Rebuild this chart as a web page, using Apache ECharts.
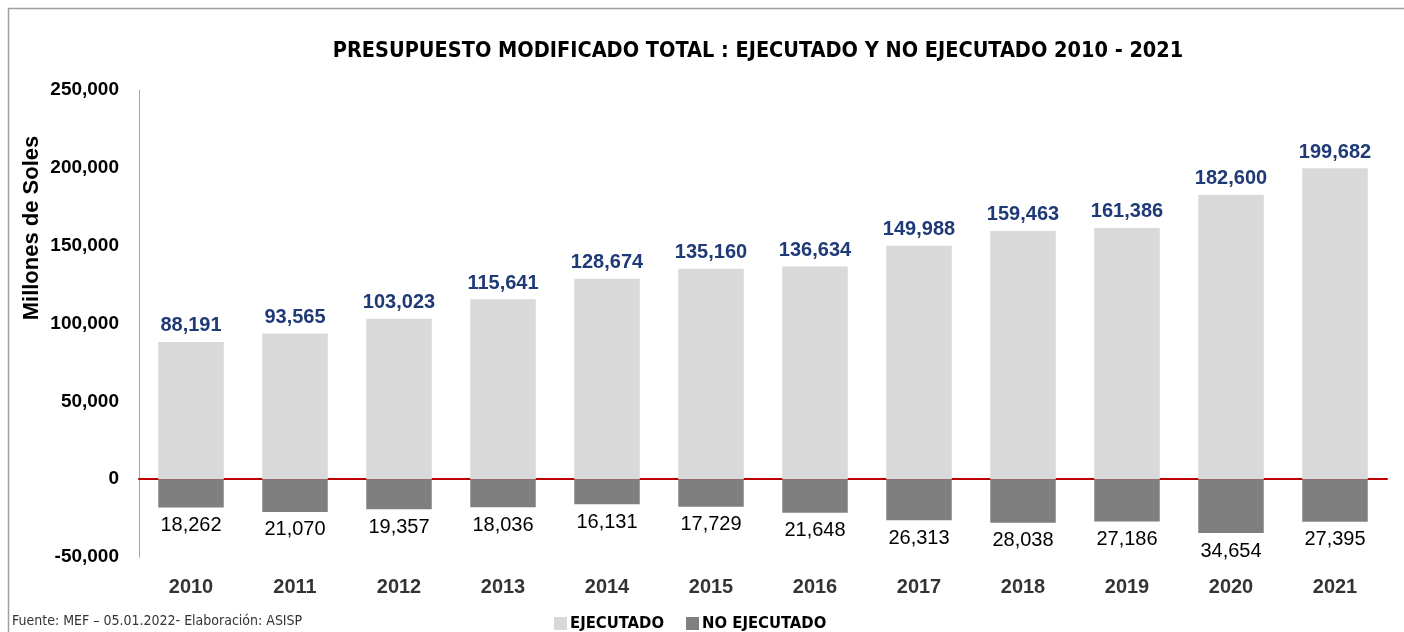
<!DOCTYPE html>
<html>
<head>
<meta charset="utf-8">
<script src="https://cdn.jsdelivr.net/npm/echarts@6/dist/echarts.min.js"></script>
<style>
  html, body { margin: 0; padding: 0; background: #fff; }
  #chart { width: 1404px; height: 632px; }
</style>
</head>
<body>
<div id="chart"></div>
<script>
const years = ['2010', '2011', '2012', '2013', '2014', '2015', '2016', '2017', '2018', '2019', '2020', '2021'];
const ejecutado = [88191, 93565, 103023, 115641, 128674, 135160, 136634, 149988, 159463, 161386, 182600, 199682];
const noEjecutado = [18262, 21070, 19357, 18036, 16131, 17729, 21648, 26313, 28038, 27186, 34654, 27395];

const narrow = "'DejaVu Sans Condensed', 'Liberation Sans'";
const fmt = v => Math.abs(v).toLocaleString('en-US');

let myChart = echarts.init(document.getElementById('chart'));
let option = {
    animation: false,
    title: {
        text: 'PRESUPUESTO MODIFICADO TOTAL : EJECUTADO Y NO EJECUTADO 2010 - 2021',
        left: 753,
        textAlign: 'center',
        top: 35,
        textStyle: {
            fontFamily: narrow,
            fontSize: 21.5,
            fontWeight: 'bold',
            color: '#000'
        }
    },
    legend: {
        left: 549,
        top: 610,
        itemWidth: 13,
        itemHeight: 13,
        itemGap: 22,
        icon: 'rect',
        textStyle: {
            fontFamily: narrow,
            fontSize: 16.5,
            fontWeight: 'bold',
            color: '#000',
            padding: [0, 0, 0, -2]
        },
        data: ['EJECUTADO', 'NO EJECUTADO']
    },
    grid: {
        left: 139,
        right: 17,
        top: 90,
        bottom: 75
    },
    xAxis: {
        type: 'category',
        data: years,
        axisTick: { show: false },
        axisLine: {
            onZero: true,
            lineStyle: { color: '#c00000', width: 2 }
        },
        axisLabel: {
            // las etiquetas van debajo del grid, no junto a la linea roja
            show: false
        }
    },
    yAxis: {
        type: 'value',
        min: -50000,
        max: 250000,
        interval: 50000,
        axisLine: {
            show: true,
            lineStyle: { color: '#a6a6a6', width: 1 }
        },
        axisTick: { show: false },
        splitLine: { show: false },
        axisLabel: {
            fontFamily: 'Liberation Sans',
            fontSize: 19,
            fontWeight: 'bold',
            color: '#000',
            margin: 20,
            formatter: v => v.toLocaleString('en-US')
        }
    },
    series: [
        {
            name: 'EJECUTADO',
            type: 'bar',
            stack: 'total',
            barWidth: '63%',
            data: ejecutado,
            itemStyle: { color: '#d9d9d9' },
            label: {
                show: true,
                position: 'top',
                distance: 6,
                fontFamily: 'Liberation Sans',
                fontSize: 20,
                fontWeight: 'bold',
                color: '#1f3a76',
                formatter: p => fmt(p.value)
            }
        },
        {
            name: 'NO EJECUTADO',
            type: 'bar',
            stack: 'total',
            data: noEjecutado.map(v => -v),
            itemStyle: { color: '#7f7f7f' },
            label: {
                show: true,
                position: 'bottom',
                distance: 8,
                fontFamily: 'Liberation Sans',
                fontSize: 20,
                color: '#000',
                formatter: p => fmt(p.value)
            }
        },
        {
            // etiquetas de los años, fijadas en la base del eje
            name: 'anio',
            type: 'scatter',
            data: years.map(() => -50000),
            symbolSize: 0,
            silent: true,
            label: {
                show: true,
                position: 'bottom',
                distance: 20,
                fontFamily: 'Liberation Sans',
                fontSize: 20,
                fontWeight: 'bold',
                color: '#000',
                formatter: p => years[p.dataIndex]
            }
        }
    ],
    graphic: [
        {
            type: 'rect',
            shape: { x: 8.5, y: 8.5, width: 1420, height: 640 },
            style: { fill: 'none', stroke: '#a0a0a0', lineWidth: 1.5 },
            silent: true
        },
        {
            type: 'text',
            x: 32,
            y: 228,
            rotation: Math.PI / 2,
            style: {
                text: 'Millones de Soles',
                fontFamily: 'Liberation Sans',
                fontSize: 22,
                fontWeight: 'bold',
                fill: '#000',
                align: 'center',
                verticalAlign: 'middle'
            }
        },
        {
            type: 'text',
            left: 12,
            top: 614,
            style: {
                text: 'Fuente: MEF \u2013 05.01.2022- Elaboraci\u00f3n: ASISP',
                fontFamily: narrow,
                fontSize: 14,
                fill: '#333'
            }
        }
    ]
};
myChart.setOption(option);
</script>
</body>
</html>
